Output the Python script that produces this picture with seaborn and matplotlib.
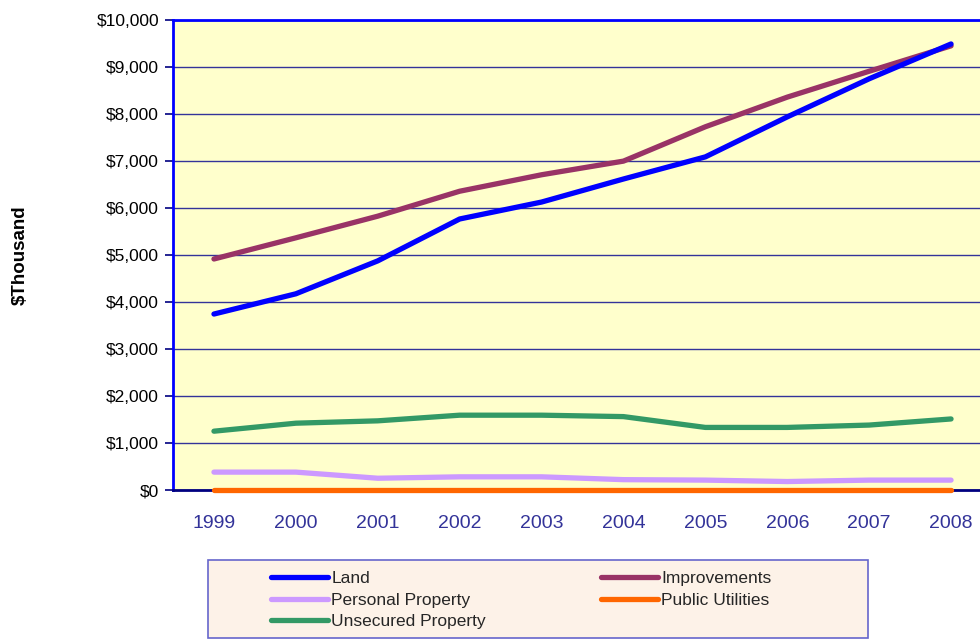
import matplotlib
matplotlib.use("Agg")
import matplotlib.pyplot as plt
import matplotlib.patches as mpatches
from matplotlib.lines import Line2D
from matplotlib.ticker import FuncFormatter, MultipleLocator
import pandas as pd
import seaborn as sns

sns.set_theme(style="white")
plt.rcParams["font.family"] = ["Liberation Sans", "DejaVu Sans"]

years = [1999, 2000, 2001, 2002, 2003, 2004, 2005, 2006, 2007, 2008]
land = [3740, 4170, 4870, 5760, 6120, 6610, 7080, 7930, 8740, 9480]
improvements = [4910, 5360, 5820, 6350, 6700, 6990, 7720, 8350, 8900, 9440]
personal_property = [380, 380, 250, 280, 280, 220, 210, 180, 210, 210]
public_utilities = [5, 5, 5, 5, 5, 5, 5, 5, 5, 5]
unsecured_property = [1250, 1420, 1470, 1590, 1590, 1560, 1330, 1330, 1380, 1510]

series_names = ["Land", "Improvements", "Personal Property", "Public Utilities", "Unsecured Property"]
series_values = [land, improvements, personal_property, public_utilities, unsecured_property]
colors = {
    "Land": "#0000FF",
    "Improvements": "#993366",
    "Personal Property": "#CC99FF",
    "Public Utilities": "#FF6600",
    "Unsecured Property": "#339966",
}

rows = []
for name, values in zip(series_names, series_values):
    for i, (year, value) in enumerate(zip(years, values)):
        rows.append({"pos": i, "year": year, "value": value, "series": name})
df = pd.DataFrame(rows)

fig = plt.figure(figsize=(9.8, 6.4), dpi=100)
ax = fig.add_axes([173 / 980, 150 / 640, 819 / 980, 470.5 / 640])
ax.set_facecolor("#FFFFCC")

# draw back-to-front so the order matches the original stacking
draw_order = ["Unsecured Property", "Personal Property", "Public Utilities", "Improvements", "Land"]
for name in draw_order:
    sub = df[df["series"] == name]
    sns.lineplot(data=sub, x="pos", y="value", color=colors[name], linewidth=3.8,
                 ax=ax, legend=False, solid_capstyle="round", solid_joinstyle="round",
                 zorder=3, clip_on=False)

ax.set_xlim(-0.5, 9.5)
ax.set_ylim(0, 10000)
ax.yaxis.set_major_locator(MultipleLocator(1000))
ax.yaxis.set_major_formatter(FuncFormatter(lambda v, p: f"${v:,.0f}"))
ax.set_xticks(range(len(years)))
ax.set_xticklabels([str(y) for y in years])
ax.set_xticks([i - 0.5 for i in range(len(years) + 1)], minor=True)

ax.grid(axis="y", color="#333399", linewidth=1.0)
ax.set_axisbelow(True)

ax.tick_params(axis="x", which="major", length=0, pad=18, labelsize=14, labelcolor="#333399")
ax.tick_params(axis="x", which="minor", length=5, width=1.2, color="#000080", direction="out")
ax.tick_params(axis="y", length=6, width=1.2, color="#000080", direction="out", labelsize=12.5,
               labelcolor="#000000", pad=4, left=True)

for side in ["left", "top"]:
    ax.spines[side].set_color("#0000FF")
    ax.spines[side].set_linewidth(2.0)
ax.spines["bottom"].set_color("#000080")
ax.spines["bottom"].set_linewidth(2.0)
ax.spines["right"].set_visible(False)

ax.set_xlabel("")
ax.set_ylabel("")
fig.text(20 / 980, 1 - 255 / 640, "$Thousand", rotation=90, ha="center", va="center",
         fontsize=13.5, fontweight="bold", color="#000000")

# legend box
box = mpatches.Rectangle((208 / 980, 2 / 640), 660 / 980, 78 / 640, transform=fig.transFigure,
                         facecolor="#FDF2E8", edgecolor="#6666CC", linewidth=1.2)
fig.patches.append(box)

legend_order = ["Land", "Personal Property", "Unsecured Property", "Improvements", "Public Utilities"]
handles = [Line2D([0], [0], color=colors[n], linewidth=3.8, solid_capstyle="round") for n in legend_order]
fig.legend(handles, legend_order, loc="upper left", bbox_to_anchor=(262 / 980, 1 - 562 / 640),
           ncol=2, frameon=False, handlelength=3.3, handletextpad=0.2,
           columnspacing=6.6, labelspacing=0.38, borderpad=0,
           prop={"family": ["Liberation Sans", "DejaVu Sans"], "size": 12.5})

fig.savefig("out.png", dpi=100)
